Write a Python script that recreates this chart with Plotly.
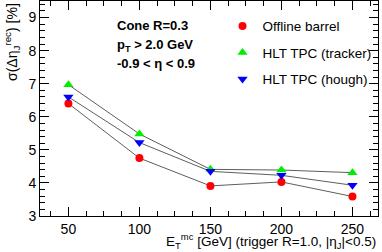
import plotly.graph_objects as go

energies = [50, 100, 150, 200, 250]
offline_barrel = [6.40, 4.75, 3.91, 4.03, 3.59]
hlt_tracker = [6.97, 5.48, 4.41, 4.39, 4.31]
hlt_hough = [6.60, 5.22, 4.35, 4.23, 3.93]

series = [
    ("Offline barrel", offline_barrel, "circle", "#ff0000", 8),
    ("HLT TPC (tracker)", hlt_tracker, "triangle-up", "#00ee00", 9),
    ("HLT TPC (hough)", hlt_hough, "triangle-down", "#0000ff", 9),
]

FONT = "Liberation Sans, Arial, Helvetica, sans-serif"

fig = go.Figure()
for name, vals, sym, col, sz in series:
    fig.add_trace(go.Scatter(
        x=energies, y=vals, mode="lines", showlegend=False,
        line=dict(color="#333333", width=0.8), hoverinfo="skip",
    ))
for name, vals, sym, col, sz in series:
    fig.add_trace(go.Scatter(
        x=energies, y=vals, name=name, mode="markers",
        marker=dict(symbol=sym, color=col, size=sz, line=dict(width=0)),
        legendgroup=name,
    ))

axis_common = dict(
    showline=True, linecolor="black", linewidth=1, mirror="allticks",
    ticks="inside", ticklen=9, tickcolor="black", tickwidth=1,
    showgrid=False, zeroline=False,
    tickfont=dict(family=FONT, size=14, color="black"),
)

fig.update_xaxes(
    range=[30, 268], tickvals=[50, 100, 150, 200, 250],
    minor=dict(dtick=12.5, tick0=0, ticks="inside", ticklen=5, tickcolor="black", showgrid=False),
    **axis_common,
)
fig.update_yaxes(
    range=[3, 9.5], dtick=1,
    minor=dict(dtick=0.2, ticks="inside", ticklen=5, tickcolor="black", showgrid=False),
    **axis_common,
)

fig.update_layout(
    width=382, height=252,
    margin=dict(l=40, r=4, t=1, b=36),
    paper_bgcolor="white", plot_bgcolor="white",
    showlegend=True,
    legend=dict(
        x=0.54, y=0.955, xanchor="left", yanchor="top",
        xref="paper", yref="paper",
        bgcolor="rgba(0,0,0,0)", borderwidth=0,
        font=dict(family=FONT, size=13.5, color="black"),
        tracegroupgap=6, itemwidth=30,
    ),
    annotations=[
        dict(xref="paper", yref="paper", x=0.222, y=0.888, xanchor="left", yanchor="middle",
             text="<b>Cone R=0.3</b>", showarrow=False,
             font=dict(family=FONT, size=13, color="black")),
        dict(xref="paper", yref="paper", x=0.222, y=0.795, xanchor="left", yanchor="middle",
             text="<b>p<sub>T</sub> &gt; 2.0 GeV</b>", showarrow=False,
             font=dict(family=FONT, size=13, color="black")),
        dict(xref="paper", yref="paper", x=0.222, y=0.71, xanchor="left", yanchor="middle",
             text="<b>-0.9 &lt; η &lt; 0.9</b>", showarrow=False,
             font=dict(family=FONT, size=13, color="black")),
        dict(xref="paper", yref="paper", x=1.0, y=-0.172, xanchor="right", yanchor="bottom",
             text="E<sub>T</sub><sup>mc</sup> [GeV] (trigger R=1.0, |η<sub>J</sub>|&lt;0.5)",
             showarrow=False, font=dict(family=FONT, size=13.5, color="black")),
        dict(xref="paper", yref="paper", x=-0.083, y=1.0, xanchor="center", yanchor="top",
             textangle=-90,
             text="σ(Δη<sub>J</sub><sup>rec</sup>) [%]",
             showarrow=False, font=dict(family=FONT, size=14, color="black")),
    ],
)

fig.write_html("out.html", post_script="document.body.style.margin='0';",
               config={"displayModeBar": False})
